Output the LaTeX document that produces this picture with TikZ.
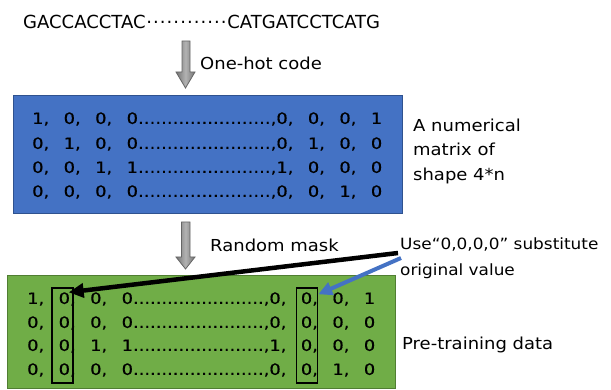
\documentclass[tikz,border=0pt]{standalone}
\usepackage{fontspec}
\setmainfont{DejaVu Sans}
\newfontfamily\lblfont{DejaVu Sans}[FakeStretch=1.09]
\newfontfamily\mtxfont{DejaVu Sans}[FakeStretch=1.15, FakeBold=0.6]
\usetikzlibrary{arrows.meta}
\definecolor{boxblue}{HTML}{4472C4}
\definecolor{boxblueline}{HTML}{2F528F}
\definecolor{boxgreen}{HTML}{70AD47}
\definecolor{boxgreenline}{HTML}{507E32}
\definecolor{arrowblue}{HTML}{4472C4}
\newcommand{\mcell}[1]{\makebox[31.5pt][l]{#1,}}
\newcommand{\mdots}{\xleaders\hbox{.}\hfill}
\newcommand{\mrow}[9]{\makebox[#1][l]{\mcell{#2}\mcell{#3}\mcell{#4}#5\mdots,\mcell{#6}\mcell{#7}\mcell{#8}#9}}
\newcommand{\middots}{\xleaders\hbox{\kern0.3pt\raisebox{0.28em}{.}\kern0.3pt}\hfill}
\tikzset{
  lbl/.style={inner sep=0pt, anchor=west, font=\lblfont\fontsize{16.5}{24.5}\selectfont, align=left},
  mtx/.style={inner sep=0pt, anchor=west, font=\mtxfont\fontsize{15.5}{20}\selectfont},
  blockarrow/.style={draw=black!60, line width=0.8pt, left color=black!55, right color=black!55, middle color=black!30},
  maskbox/.style={draw=black, line width=1.4pt, minimum width=21pt, minimum height=95pt, inner sep=0pt},
}
\begin{document}
\begin{tikzpicture}[x=1pt,y=-1pt]
\useasboundingbox (0,0) rectangle (611,390);
% sequence
\node[inner sep=0pt, anchor=west, font=\fontsize{18}{22}\selectfont] (seq) at (23,22) {\makebox[357pt][l]{GACCACCTAC\middots CATGATCCTCATG}};
% arrow 1
\path[blockarrow] (182,41) -- (190,41) -- (190,72) -- (195,72) -- (185.5,88) -- (176,72) -- (182,72) -- cycle;
\node[lbl] (onehot) at (200,63) {One-hot code};
% blue box
\node[draw=boxblueline, fill=boxblue, line width=1pt, minimum width=389pt, minimum height=118pt, inner sep=0pt, anchor=north west] (bluebox) at (13,95) {};
\node[mtx] (b1) at (32,119) {\mrow{350pt}{1}{0}{0}{0}{0}{0}{0}{1}};
\node[mtx] (b2) at (32,144) {\mrow{350pt}{0}{1}{0}{0}{0}{1}{0}{0}};
\node[mtx] (b3) at (32,168) {\mrow{350pt}{0}{0}{1}{1}{1}{0}{0}{0}};
\node[mtx] (b4) at (32,192) {\mrow{350pt}{0}{0}{0}{0}{0}{0}{1}{0}};
\node[lbl] (numlbl) at (413,151) {A numerical\\matrix of\\shape 4*n};
% arrow 2
\path[blockarrow] (181.5,222) -- (190,222) -- (190,257) -- (195,257) -- (185.5,269) -- (176,257) -- (181.5,257) -- cycle;
\node[lbl] (mask) at (210,245) {Random mask};
% green box
\node[draw=boxgreenline, fill=boxgreen, line width=1pt, minimum width=388pt, minimum height=113pt, inner sep=0pt, anchor=north west] (greenbox) at (7,275) {};
\node[mtx] (g1) at (27,299) {\mrow{348pt}{1}{0}{0}{0}{0}{0}{0}{1}};
\node[mtx] (g2) at (27,323) {\mrow{348pt}{0}{0}{0}{0}{0}{0}{0}{0}};
\node[mtx] (g3) at (27,346) {\mrow{348pt}{0}{0}{1}{1}{1}{0}{0}{0}};
\node[mtx] (g4) at (27,370) {\mrow{348pt}{0}{0}{0}{0}{0}{0}{1}{0}};
\node[maskbox] (lbox) at (62.5,335.5) {};
\node[maskbox] (rbox) at (307,335.5) {};
\node[lbl] (pre) at (402,345) {Pre-training data};
% annotation
\node[lbl, font=\lblfont\fontsize{15.5}{26}\selectfont] (use) at (400,258) {Use“0,0,0,0” substitute\\original value};
\coordinate (bsrc) at (398,253);
\coordinate (usrc) at (401,258);
\draw[line width=4.5pt, -{Triangle[length=15pt,width=14pt]}] (bsrc) -- ([shift={(-5,5)}]lbox.north east);
\draw[arrowblue, line width=4pt, -{Triangle[length=14pt,width=13pt]}] (usrc) -- ([shift={(0,7)}]rbox.north east);
\end{tikzpicture}
\end{document}
